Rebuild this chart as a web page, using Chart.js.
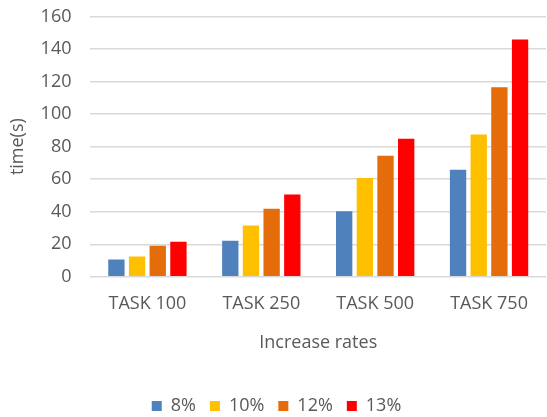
<!DOCTYPE html>
<html>
<head>
<meta charset="utf-8">
<script src="https://cdn.jsdelivr.net/npm/chart.js@4/dist/chart.umd.min.js"></script>
<style>
  html, body { margin: 0; padding: 0; background: #fff; }
  #wrap { width: 547px; height: 417px; }
</style>
</head>
<body>
<div id="wrap"><canvas id="timeChart" width="547" height="417"></canvas></div>
<script>
// task sizes on the x axis
const tasks = ['TASK 100', 'TASK 250', 'TASK 500', 'TASK 750'];

// run time in seconds for each increase rate
const rate8 = [10.7, 22.2, 40.3, 65.8];
const rate10 = [12.5, 31.6, 60.8, 87.5];
const rate12 = [19.1, 41.9, 74.4, 116.5];
const rate13 = [21.6, 50.6, 84.9, 145.8];

const rateLabels = ['8%', '10%', '12%', '13%'];
const rateColors = ['#4f81bd', '#ffc000', '#e46c0a', '#ff0000'];

const TEXT = '#595959';
const FONT = { family: "'Open Sans', sans-serif", size: 18 };

// building the bar chart
const series = [rate8, rate10, rate12, rate13];
const ctx = document.getElementById('timeChart').getContext('2d');
const timeChart = new Chart(ctx, {
    type: 'bar',
    data: {
        labels: tasks,
        datasets: series.map((values, i) => ({
            label: rateLabels[i],
            data: values,
            backgroundColor: rateColors[i],
            borderWidth: 0,
            barPercentage: 0.79,
            categoryPercentage: 0.726
        }))
    },
    options: {
        responsive: false,
        animation: false,
        layout: { padding: { left: 7, right: 1, top: 16.5, bottom: -8 } },
        scales: {
            x: {
                grid: { display: false, drawTicks: false },
                border: { display: false },
                ticks: { color: TEXT, font: FONT, padding: 16 },
                title: {
                    display: true,
                    text: 'Increase rates',
                    color: TEXT,
                    font: FONT,
                    padding: { top: 2, bottom: 29 }
                }
            },
            y: {
                min: 0,
                max: 160,
                // invisible tick marks keep the labels away from the plot
                ticks: { stepSize: 20, color: TEXT, font: FONT, padding: 3 },
                grid: {
                    color: '#d9d9d9',
                    lineWidth: 1.5,
                    drawTicks: true,
                    tickLength: 16,
                    tickColor: 'rgba(0,0,0,0)'
                },
                border: { display: false },
                title: {
                    display: true,
                    text: 'time(s)',
                    color: TEXT,
                    font: FONT,
                    padding: { top: 0, bottom: 9 }
                }
            }
        },
        plugins: {
            legend: {
                display: true,
                position: 'bottom',
                labels: {
                    color: TEXT,
                    font: FONT,
                    boxWidth: 10,
                    boxHeight: 10,
                    padding: 14
                }
            },
            tooltip: { enabled: false }
        }
    }
});
</script>
</body>
</html>
